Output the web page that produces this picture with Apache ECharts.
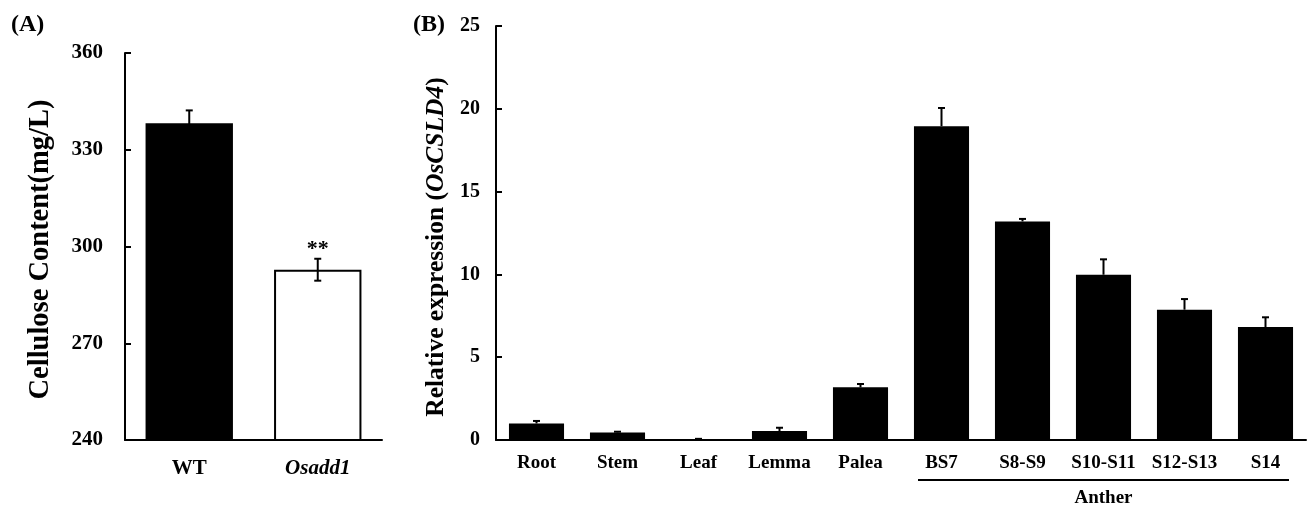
<!DOCTYPE html>
<html>
<head>
<meta charset="utf-8">
<script src="https://cdn.jsdelivr.net/npm/echarts@6/dist/echarts.min.js"></script>
<style>
  html, body { margin: 0; background: #fff; }
  #chart { width: 1310px; height: 507px; }
</style>
</head>
<body>
<div id="chart"></div>
<script>
// panel A: cellulose content
const groupsA = ['WT', 'Osadd1']
const valuesA = [338.2, 292.8]
const errorsA = [4.0, 3.4]
const signifA = ['', '**']

// panel B: relative expression of OsCSLD4
const tissuesB = ['Root', 'Stem', 'Leaf', 'Lemma', 'Palea', 'BS7', 'S8-S9', 'S10-S11', 'S12-S13', 'S14']
const valuesB = [1.0, 0.46, 0.05, 0.54, 3.18, 18.95, 13.2, 9.98, 7.87, 6.82]
const errorsB = [0.15, 0.04, 0.02, 0.2, 0.2, 1.1, 0.15, 0.93, 0.64, 0.59]
const antherRange = ['BS7', 'S14']

const FONT = "'Times New Roman', 'Liberation Serif', serif"
const chart = echarts.init(document.getElementById('chart'))

function errorBar(upOnly, marks) {
  return function (params, api) {
    const i = api.value(0), v = api.value(1), e = api.value(2)
    const top = api.coord([i, v + e])
    const bot = api.coord([i, upOnly ? v : v - e])
    const hw = 3.5
    const style = { stroke: '#000', lineWidth: 2 }
    const children = [
      { type: 'line', shape: { x1: top[0], y1: top[1], x2: bot[0], y2: bot[1] }, style },
      { type: 'line', shape: { x1: top[0] - hw, y1: top[1], x2: top[0] + hw, y2: top[1] }, style }
    ]
    if (!upOnly) {
      children.push({ type: 'line', shape: { x1: bot[0] - hw, y1: bot[1], x2: bot[0] + hw, y2: bot[1] }, style })
    }
    if (marks && marks[params.dataIndex]) {
      children.push({
        type: 'text',
        style: {
          x: top[0], y: top[1] + 2, text: marks[params.dataIndex],
          align: 'center', verticalAlign: 'bottom',
          font: 'bold 22px ' + FONT, fill: '#000'
        }
      })
    }
    return { type: 'group', children }
  }
}

const axisLine = { lineStyle: { color: '#000', width: 2 } }
const labelBase = { color: '#000', fontFamily: FONT, fontWeight: 'bold' }

chart.setOption({
  animation: false,
  title: [
    { text: '(A)', left: 6, top: 8, textStyle: { ...labelBase, fontSize: 24 } },
    { text: '(B)', left: 408, top: 8, textStyle: { ...labelBase, fontSize: 24 } }
  ],
  grid: [
    { left: 125, top: 53, width: 257, height: 387 },
    { left: 496, top: 26, width: 810, height: 414 }
  ],
  xAxis: [
    {
      type: 'category', gridIndex: 0, data: groupsA,
      axisLine, axisTick: { show: false },
      axisLabel: {
        ...labelBase, fontSize: 21, margin: 18,
        formatter: v => v === 'Osadd1' ? '{i|' + v + '}' : v,
        rich: { i: { ...labelBase, fontSize: 21, fontStyle: 'italic' } }
      }
    },
    {
      type: 'category', gridIndex: 1, data: tissuesB,
      axisLine, axisTick: { inside: true, length: 5, lineStyle: { width: 2 } },
      axisLabel: { ...labelBase, fontSize: 19, margin: 14, interval: 0 }
    }
  ],
  yAxis: [
    {
      type: 'value', gridIndex: 0, min: 240, max: 360, interval: 30,
      axisLine: { show: true, ...axisLine },
      axisTick: { show: true, inside: true, length: 6, lineStyle: { width: 2 } },
      splitLine: { show: false },
      axisLabel: { ...labelBase, fontSize: 21, margin: 22 },
      name: 'Cellulose Content(mg/L)', nameLocation: 'middle', nameGap: 70,
      nameTextStyle: { ...labelBase, fontSize: 28.5, padding: [0, 6, 0, 0] }
    },
    {
      type: 'value', gridIndex: 1, min: 0, max: 25, interval: 5,
      axisLine: { show: true, ...axisLine },
      axisTick: { show: true, inside: true, length: 6, lineStyle: { width: 2 } },
      splitLine: { show: false },
      axisLabel: { ...labelBase, fontSize: 20, margin: 16 },
      name: 'Relative expression ({i|OsCSLD4})', nameLocation: 'middle', nameGap: 42,
      nameTextStyle: {
        ...labelBase, fontSize: 25.5, padding: [0, 28, 0, 0],
        rich: { i: { ...labelBase, fontSize: 25.5, fontStyle: 'italic' } }
      }
    }
  ],
  series: [
    {
      type: 'bar', xAxisIndex: 0, yAxisIndex: 0, barCategoryGap: '32%',
      data: valuesA.map((v, i) => ({
        value: v,
        itemStyle: i === 0
          ? { color: '#000' }
          : { color: '#fff', borderColor: '#000', borderWidth: 2 }
      }))
    },
    {
      type: 'custom', xAxisIndex: 0, yAxisIndex: 0, z: 5,
      renderItem: errorBar(false, signifA),
      data: valuesA.map((v, i) => [i, v, errorsA[i]])
    },
    {
      type: 'bar', xAxisIndex: 1, yAxisIndex: 1, barCategoryGap: '32%',
      itemStyle: { color: '#000' },
      data: valuesB
    },
    {
      type: 'custom', xAxisIndex: 1, yAxisIndex: 1, z: 5,
      renderItem: errorBar(true),
      data: valuesB.map((v, i) => [i, v, errorsB[i]])
    },
    {
      // bracket under the anther stages
      type: 'custom', xAxisIndex: 1, yAxisIndex: 1, silent: true,
      encode: { x: [0, 1], y: 2 },
      renderItem: function (params, api) {
        const a = api.coord([api.value(0), 0])
        const b = api.coord([api.value(1), 0])
        const half = api.size([1, 0])[0] * 0.29
        const y = a[1] + 40
        return {
          type: 'group', children: [
            { type: 'line', shape: { x1: a[0] - half, y1: y, x2: b[0] + half, y2: y }, style: { stroke: '#000', lineWidth: 2 } },
            {
              type: 'text',
              style: {
                x: (a[0] + b[0]) / 2, y: y + 9, text: 'Anther',
                align: 'center', verticalAlign: 'top',
                font: 'bold 19px ' + FONT, fill: '#000'
              }
            }
          ]
        }
      },
      data: [[tissuesB.indexOf(antherRange[0]), tissuesB.indexOf(antherRange[1]), 0]]
    }
  ]
})
</script>
</body>
</html>
